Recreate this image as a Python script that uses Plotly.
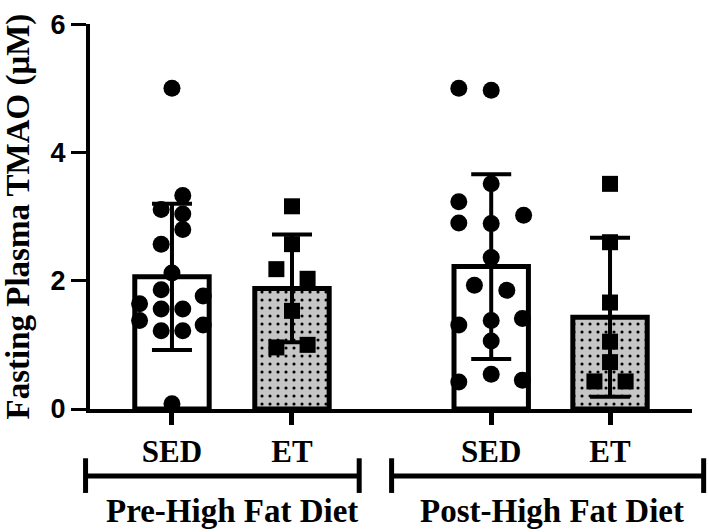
import plotly.graph_objects as go

# ---------------- data ----------------
group_labels = ["Pre-High Fat Diet", "Post-High Fat Diet"]
bar_labels = ["SED", "ET", "SED", "ET"]
y_title = "Fasting Plasma TMAO (μM)"
means = [2.06, 1.88, 2.22, 1.43]
sds = [1.14, 0.84, 1.44, 1.24]

sed_pre = [5.00, 3.33, 3.11, 3.04, 2.80, 2.57, 2.12, 1.86, 1.76, 1.64,
           1.56, 1.56, 1.38, 1.31, 1.22, 1.22, 0.08]
sed_pre_jitter = [0, 0.09, -0.09, 0.09, 0.09, -0.09, 0, -0.09, 0.26, -0.27,
                  -0.09, 0.09, -0.27, 0.26, -0.09, 0.09, 0]

et_pre = [3.16, 2.57, 2.18, 2.03, 1.53, 1.00, 0.96]
et_pre_jitter = [0, 0, -0.13, 0.13, 0, 0.13, -0.13]

sed_post = [5.00, 4.97, 3.51, 3.23, 3.02, 2.90, 2.89, 2.36, 1.93, 1.85,
            1.41, 1.38, 1.31, 1.06, 0.54, 0.45, 0.42]
sed_post_jitter = [-0.27, 0, 0, -0.27, 0.27, -0.27, 0, 0, -0.14, 0.13,
                   0.26, 0, -0.27, 0, 0, 0.26, -0.27]

et_post = [3.51, 2.60, 1.66, 1.05, 0.73, 0.43, 0.43]
et_post_jitter = [0, 0, 0, 0, 0, -0.13, 0.13]

# ---------------- layout constants ----------------
pos = [0, 1, 2.66, 3.65]          # category centres on the x axis
X_RANGE = [-0.683, 4.333]
BAR_W = 0.62
SERIF = "Liberation Serif"
SANS = "Liberation Sans"
GRAY = "#c6c6c6"

fig = go.Figure()

# SED bars (white)
fig.add_trace(go.Bar(
    x=[pos[0], pos[2]], y=[means[0], means[2]], width=BAR_W,
    marker=dict(color="white", line=dict(color="black", width=5)),
    error_y=dict(type="data", array=[sds[0], sds[2]], color="black",
                 thickness=4, width=20),
    showlegend=False, hoverinfo="skip"))

# ET bars (gray, dotted)
fig.add_trace(go.Bar(
    x=[pos[1], pos[3]], y=[means[1], means[3]], width=BAR_W,
    marker=dict(color=GRAY, line=dict(color="black", width=5),
                pattern=dict(shape=".", size=8, solidity=0.12,
                             fgcolor="black", bgcolor=GRAY,
                             fgopacity=1, fillmode="replace")),
    error_y=dict(type="data", array=[sds[1], sds[3]], color="black",
                 thickness=4, width=20),
    showlegend=False, hoverinfo="skip"))

def pts(vals, jit, p, symbol, size):
    fig.add_trace(go.Scatter(
        x=[p + j for j in jit], y=vals, mode="markers",
        marker=dict(symbol=symbol, size=size, color="black"),
        cliponaxis=False, showlegend=False, hoverinfo="skip"))

pts(sed_pre, sed_pre_jitter, pos[0], "circle", 17)
pts(et_pre, et_pre_jitter, pos[1], "square", 16)
pts(sed_post, sed_post_jitter, pos[2], "circle", 17)
pts(et_post, et_post_jitter, pos[3], "square", 16)

def to_paper(x):
    return (x - X_RANGE[0]) / (X_RANGE[1] - X_RANGE[0])

# group brackets below the axis
brackets = [(pos[0] - 0.72, pos[1] + 0.56), (pos[2] - 0.83, pos[3] + 0.78)]
label_x = [pos[0] + 0.5, pos[2] + 0.51]
y_line, y_top, y_bot = -0.174, -0.128, -0.218
shapes = []
for (x0, x1) in brackets:
    p0, p1 = to_paper(x0), to_paper(x1)
    shapes.append(dict(type="line", xref="paper", yref="paper", x0=p0, x1=p1,
                       y0=y_line, y1=y_line, line=dict(color="black", width=5)))
    for xx in (p0, p1):
        shapes.append(dict(type="line", xref="paper", yref="paper", x0=xx, x1=xx,
                           y0=y_top, y1=y_bot, line=dict(color="black", width=5)))

annotations = []
for lx, lab in zip(label_x, group_labels):
    annotations.append(dict(x=to_paper(lx), y=-0.265,
                            xref="paper", yref="paper",
                            text=lab, showarrow=False,
                            xanchor="center", yanchor="middle",
                            font=dict(family=SERIF, size=33, color="black",
                                      weight="bold")))

# y-axis title (rotated), centred ~18 px from the left edge
annotations.append(dict(x=-72 / 602, y=0.5, xref="paper", yref="paper",
                        text=y_title, showarrow=False, textangle=-90,
                        xanchor="center", yanchor="middle",
                        font=dict(family=SERIF, size=33, color="black",
                                  weight="bold")))

fig.update_layout(
    width=709, height=532,
    margin=dict(l=90, r=17, t=10, b=123),
    paper_bgcolor="white", plot_bgcolor="white",
    barmode="overlay",
    shapes=shapes, annotations=annotations,
    xaxis=dict(range=X_RANGE, tickvals=pos, ticktext=bar_labels,
               ticks="outside", ticklen=12, tickwidth=5, tickcolor="black",
               showline=True, linecolor="black", linewidth=4,
               showgrid=False, zeroline=False,
               tickfont=dict(family=SERIF, size=31, color="black",
                             weight="bold")),
    yaxis=dict(range=[0, 6.002], tickvals=[0, 2, 4, 6],
               ticks="outside", ticklen=15, tickwidth=3, tickcolor="black",
               showline=True, linecolor="black", linewidth=4,
               showgrid=False, zeroline=False, ticklabeloverflow="allow",
               tickfont=dict(family=SANS, size=27, color="black",
                             weight="bold")),
)

fig.write_html("out.html", config={"displayModeBar": False})
with open("out.html", "r", encoding="utf-8") as f:
    html = f.read()
html = html.replace("<head>", "<head><style>html,body{margin:0;padding:0;overflow:hidden;}</style>", 1)
with open("out.html", "w", encoding="utf-8") as f:
    f.write(html)
